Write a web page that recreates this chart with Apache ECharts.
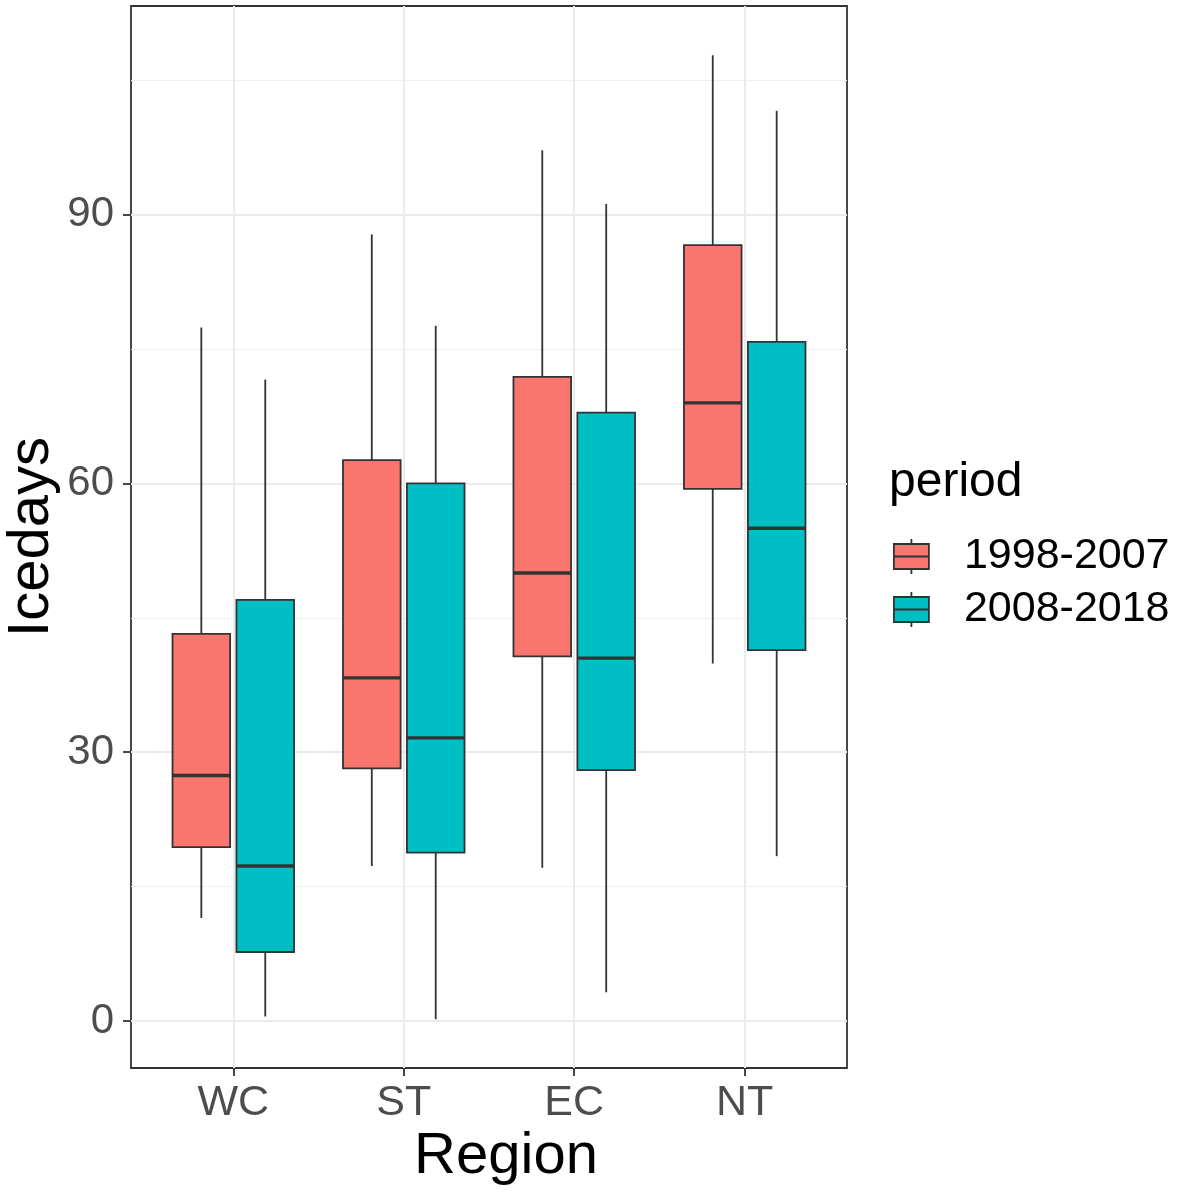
<!DOCTYPE html>
<html>
<head>
<meta charset="utf-8">
<script src="https://cdn.jsdelivr.net/npm/echarts@6/dist/echarts.min.js"></script>
<style>
  html, body { margin: 0; padding: 0; background: #fff; }
  #main { width: 1181px; height: 1195px; }
</style>
</head>
<body>
<div id="main"></div>
<script>
// categories on the x axis
const regions = ['WC', 'ST', 'EC', 'NT'];
const periods = ['1998-2007', '2008-2018'];
const periodColors = ['#F8766D', '#00BFC4'];

// per region: [lower whisker, Q1, median, Q3, upper whisker]
const box1998 = [
  [11.5, 19.4, 27.4, 43.2, 77.4],
  [17.3, 28.2, 38.3, 62.6, 87.8],
  [17.1, 40.7, 50.0, 71.9, 97.2],
  [39.9, 59.4, 69.0, 86.6, 107.8]
];
const box2008 = [
  [0.5, 7.7, 17.3, 47.0, 71.6],
  [0.2, 18.8, 31.6, 60.0, 77.6],
  [3.2, 28.0, 40.5, 67.9, 91.2],
  [18.4, 41.4, 55.0, 75.8, 101.6]
];

const yMajor = [0, 30, 60, 90];
const yMinor = [15, 45, 75, 105];

// dodge: each period sits 0.1875 from the region centre, box is 0.338 wide
const dodge = 0.1875;
const boxHalf = 0.169;
const ink = '#333333';

function boxRenderer(offset) {
  return function (params, api) {
    const x = api.value(0) + offset;
    const lo = api.coord([x, api.value(1)]);
    const q1 = api.coord([x, api.value(2)]);
    const md = api.coord([x, api.value(3)]);
    const q3 = api.coord([x, api.value(4)]);
    const hi = api.coord([x, api.value(5)]);
    const hw = api.size([boxHalf, 0])[0];
    const thin = { stroke: ink, lineWidth: 1.8 };
    return {
      type: 'group',
      children: [
        { type: 'line', shape: { x1: lo[0], y1: lo[1], x2: q1[0], y2: q1[1] }, style: thin },
        { type: 'line', shape: { x1: q3[0], y1: q3[1], x2: hi[0], y2: hi[1] }, style: thin },
        { type: 'rect', shape: { x: q3[0] - hw, y: q3[1], width: 2 * hw, height: q1[1] - q3[1] },
          style: { fill: api.visual('color'), stroke: ink, lineWidth: 1.8 } },
        { type: 'line', shape: { x1: md[0] - hw, y1: md[1], x2: md[0] + hw, y2: md[1] },
          style: { stroke: ink, lineWidth: 3.4 } }
      ]
    };
  };
}

function toRows(boxes) {
  return boxes.map((b, i) => [i + 1].concat(b));
}

const chart = echarts.init(document.getElementById('main'), null, { renderer: 'canvas' });

chart.setOption({
  animation: false,
  backgroundColor: '#ffffff',
  textStyle: { fontFamily: 'Liberation Sans, Arial, sans-serif' },
  title: {
    text: 'period',
    left: 889,
    top: 459,
    padding: 0,
    textStyle: { fontSize: 48, fontWeight: 'normal', color: '#000' }
  },
  legend: {
    orient: 'vertical',
    left: 893,
    top: 535,
    padding: 0,
    itemWidth: 35,
    itemHeight: 35,
    itemGap: 10,
    icon: 'path://M0,5H35V30H0ZM0,17.5H35M17.5,0V5M17.5,30V35',
    itemStyle: { borderColor: ink, borderWidth: 1.8 },
    textStyle: { fontSize: 43, color: '#000', padding: [0, 0, 0, 30] },
    data: periods
  },
  grid: {
    left: 131,
    top: 6,
    right: 334,
    bottom: 127,
    outerBoundsMode: 'none',
    containLabel: false,
    show: true,
    backgroundColor: '#fff',
    borderColor: ink,
    borderWidth: 1.8
  },
  xAxis: {
    type: 'value',
    min: 0.4,
    max: 4.6,
    name: 'Region',
    nameLocation: 'middle',
    nameGap: 60,
    nameMoveOverlap: false,
    nameTextStyle: { fontSize: 58, color: '#000', padding: [0, 0, 0, 34] },
    axisLine: { show: false, onZero: false },
    axisTick: { show: true, length: 8, customValues: [1, 2, 3, 4], lineStyle: { color: ink, width: 1.8 } },
    axisLabel: {
      customValues: [1, 2, 3, 4],
      formatter: v => regions[Math.round(v) - 1],
      fontSize: 43,
      color: '#4D4D4D',
      margin: 14
    },
    splitLine: { show: true, lineStyle: { color: '#EBEBEB', width: 2 } }
  },
  yAxis: [
    {
      type: 'value',
      min: -5.25,
      max: 113.3,
      name: 'Icedays',
      nameLocation: 'middle',
      nameGap: 70,
      nameMoveOverlap: false,
      nameRotate: 90,
      nameTextStyle: { fontSize: 58, color: '#000' },
      axisLine: { show: false, onZero: false },
      axisTick: { show: true, length: 8, customValues: yMajor, lineStyle: { color: ink, width: 1.8 } },
      axisLabel: { customValues: yMajor, fontSize: 42, color: '#4D4D4D', margin: 17 },
      splitLine: { show: true, lineStyle: { color: '#EBEBEB', width: 2 } }
    },
    {
      type: 'value',
      min: -5.25,
      max: 113.3,
      position: 'left',
      axisLine: { show: false, onZero: false },
      axisTick: { show: false, customValues: yMinor },
      axisLabel: { show: false, customValues: yMinor },
      splitLine: { show: true, lineStyle: { color: '#EFEFEF', width: 1.2 } }
    }
  ],
  series: [
    {
      name: periods[0],
      type: 'custom',
      itemStyle: { color: periodColors[0] },
      encode: { x: 0, y: [1, 2, 3, 4, 5] },
      renderItem: boxRenderer(-dodge),
      data: toRows(box1998)
    },
    {
      name: periods[1],
      type: 'custom',
      itemStyle: { color: periodColors[1] },
      encode: { x: 0, y: [1, 2, 3, 4, 5] },
      renderItem: boxRenderer(dodge),
      data: toRows(box2008)
    }
  ]
});
</script>
</body>
</html>
